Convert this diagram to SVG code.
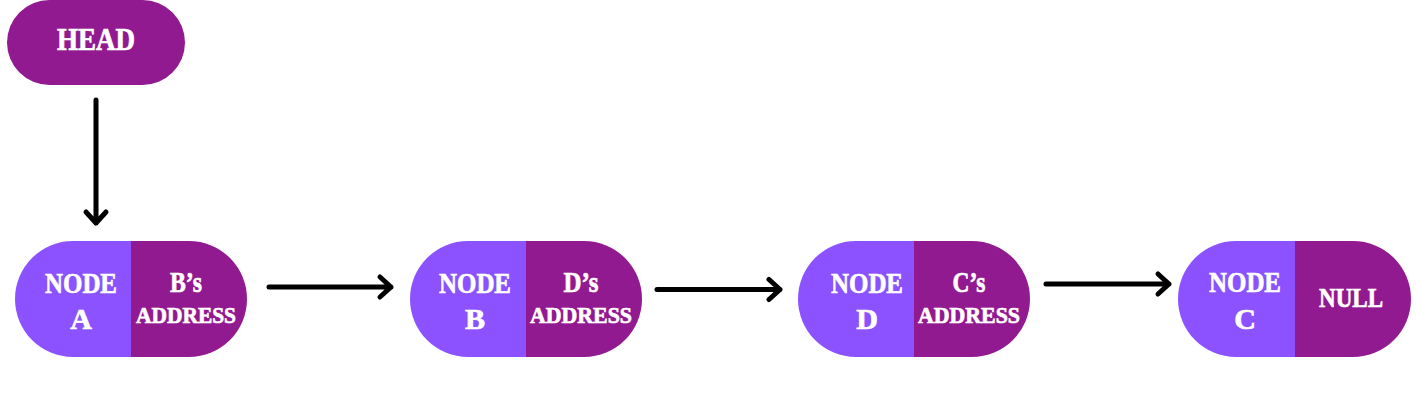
<svg xmlns="http://www.w3.org/2000/svg" width="1416" height="402" viewBox="0 0 1416 402">
<style>
.lt{fill:#8c52ff}
.dk{fill:#921a90}
.t{fill:#ffffff;stroke:#ffffff;stroke-width:0.7;font-family:"Liberation Serif","Times New Roman",serif;font-weight:bold;text-anchor:middle}
.big{font-size:30px}
.sm{font-size:24px}
.arr{fill:none;stroke:#000000;stroke-width:5;stroke-linecap:round;stroke-linejoin:round}
</style>
<rect width="1416" height="402" fill="#ffffff"/>
<g id="head">
<rect class="dk" x="7" y="0" width="178" height="85" rx="42.5"/>
<text class="t" x="96" y="50" font-size="31" textLength="78" lengthAdjust="spacingAndGlyphs">HEAD</text>
</g>
<g id="nodeA" transform="translate(15,241)">
<path class="lt" d="M116,0 H58 A58,58 0 0 0 58,116 H116 Z"/>
<path class="dk" d="M116,0 H174 A58,58 0 0 1 174,116 H116 Z"/>
<text class="t big" x="66" y="51.5" textLength="72" lengthAdjust="spacingAndGlyphs">NODE</text>
<text class="t big" x="66" y="88">A</text>
<text class="t big" x="171" y="51" textLength="32" lengthAdjust="spacingAndGlyphs">B’s</text>
<text class="t sm" x="171" y="82" textLength="100" lengthAdjust="spacingAndGlyphs">ADDRESS</text>
</g>
<g id="nodeB" transform="translate(410,241)">
<path class="lt" d="M116,0 H58 A58,58 0 0 0 58,116 H116 Z"/>
<path class="dk" d="M116,0 H174 A58,58 0 0 1 174,116 H116 Z"/>
<text class="t big" x="65" y="51.5" textLength="72" lengthAdjust="spacingAndGlyphs">NODE</text>
<text class="t big" x="65" y="88">B</text>
<text class="t big" x="171" y="51" textLength="35" lengthAdjust="spacingAndGlyphs">D’s</text>
<text class="t sm" x="171" y="82" textLength="102" lengthAdjust="spacingAndGlyphs">ADDRESS</text>
</g>
<g id="nodeD" transform="translate(798,241)">
<path class="lt" d="M116,0 H58 A58,58 0 0 0 58,116 H116 Z"/>
<path class="dk" d="M116,0 H174 A58,58 0 0 1 174,116 H116 Z"/>
<text class="t big" x="69" y="51.5" textLength="72" lengthAdjust="spacingAndGlyphs">NODE</text>
<text class="t big" x="69" y="88">D</text>
<text class="t big" x="171" y="51" textLength="33" lengthAdjust="spacingAndGlyphs">C’s</text>
<text class="t sm" x="171" y="82" textLength="102" lengthAdjust="spacingAndGlyphs">ADDRESS</text>
</g>
<g id="nodeC" transform="translate(1178,241)">
<path class="lt" d="M117,0 H58 A58,58 0 0 0 58,116 H117 Z"/>
<path class="dk" d="M117,0 H175 A58,58 0 0 1 175,116 H117 Z"/>
<text class="t big" x="67" y="51" textLength="72" lengthAdjust="spacingAndGlyphs">NODE</text>
<text class="t big" x="67" y="88">C</text>
<text class="t" x="173" y="66" font-size="27" textLength="64" lengthAdjust="spacingAndGlyphs">NULL</text>
</g>
<g id="connectors">
<path class="arr" d="M96,100 V223 M86,212 L96,223 L106,212"/>
<path class="arr" d="M269,287 H391 M380,277 L391,287 L380,297"/>
<path class="arr" d="M657,289.5 H780 M769,279.5 L780,289.5 L769,299.5"/>
<path class="arr" d="M1046,284 H1169 M1158,274 L1169,284 L1158,294"/>
</g>
</svg>
